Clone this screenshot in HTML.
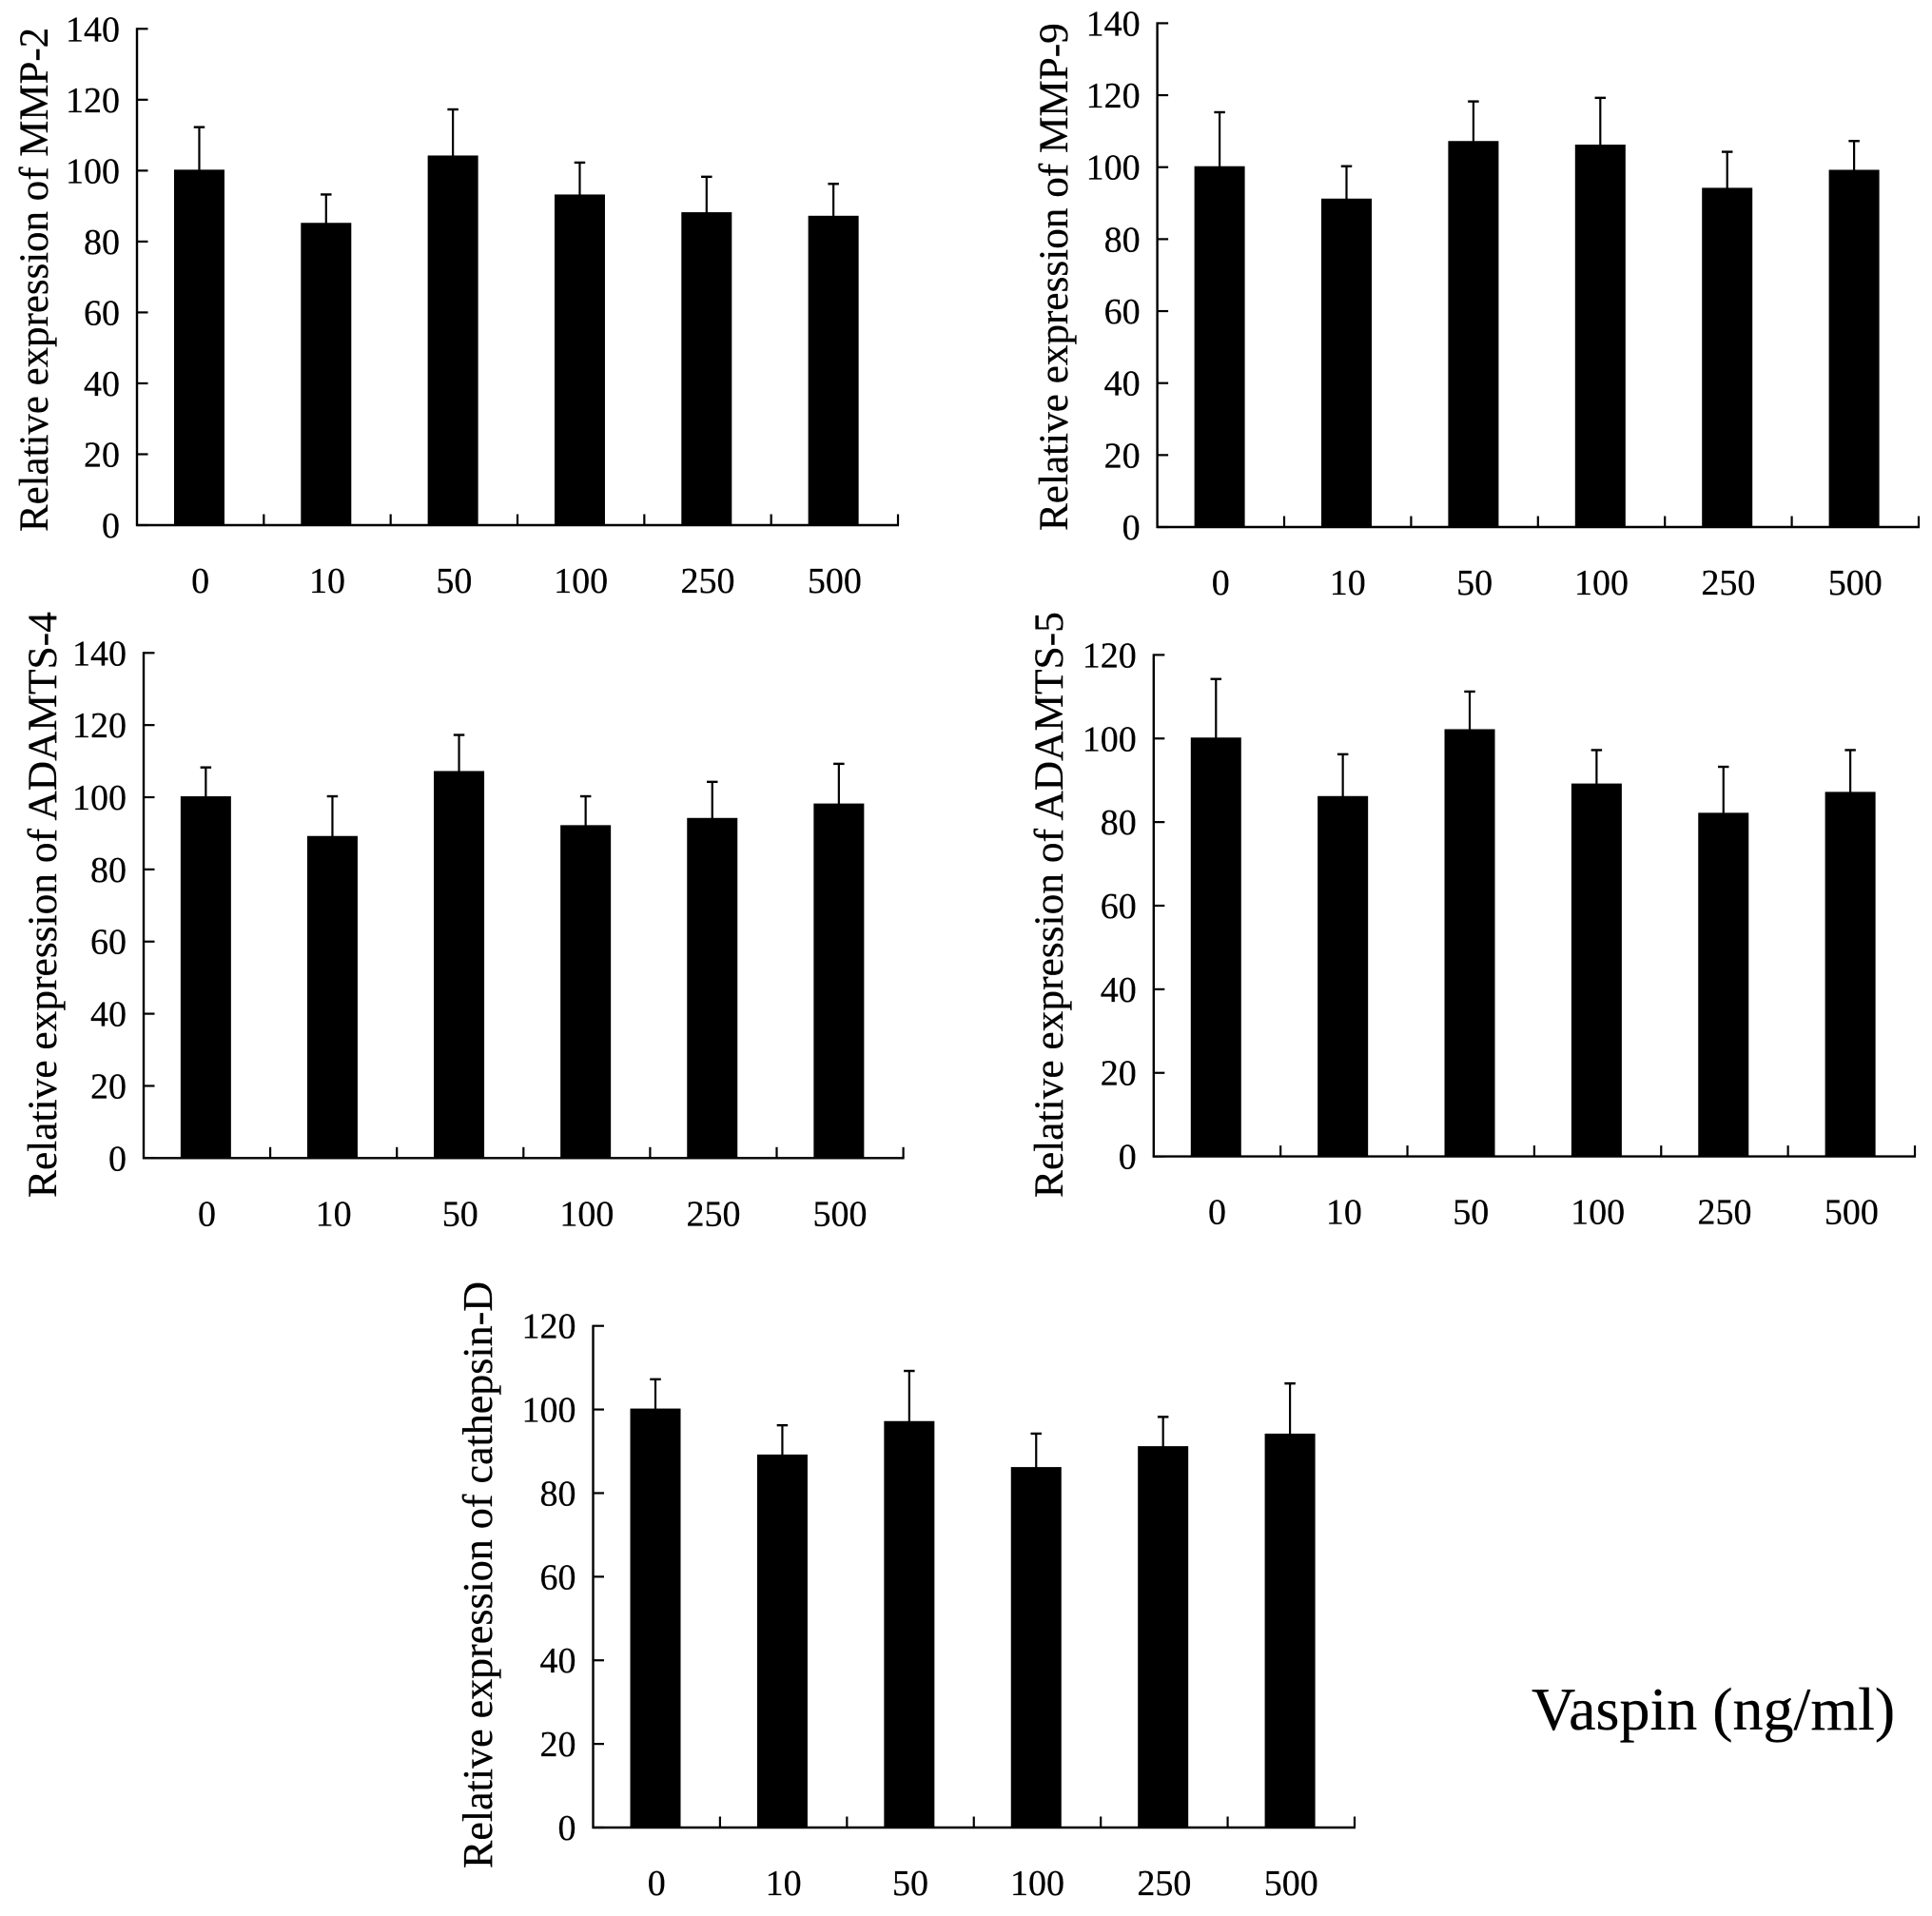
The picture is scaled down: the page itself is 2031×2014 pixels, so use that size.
<!DOCTYPE html>
<html lang="en">
<head>
<meta charset="utf-8">
<title>Relative expression vs Vaspin dose</title>
<style>
html,body{margin:0;padding:0;background:#fff;}
svg{display:block;}
text{font-family:"Liberation Serif",serif;fill:#000;stroke:#000;stroke-width:0.25px;}
.title{font-size:43.4px;}
.tick{font-size:38px;}
</style>
</head>
<body>
<svg id="figure" xmlns="http://www.w3.org/2000/svg" width="2031" height="2014" viewBox="0 0 2031 2014">
  <rect x="0" y="0" width="2031" height="2014" fill="#fff"/>
  <g id="panel-mmp2">
    <text class="title" style="font-size:42.9px" transform="translate(50,559) rotate(-90)">Relative expression of MMP-2</text>
  </g>
  <g id="panel-mmp9">
    <text class="title" style="font-size:43.2px" transform="translate(1122,558) rotate(-90)">Relative expression of MMP-9</text>
  </g>
  <g id="panel-adamts4">
    <text class="title" transform="translate(59,1259) rotate(-90)">Relative expression of ADAMTS-4</text>
  </g>
  <g id="panel-adamts5">
    <text class="title" transform="translate(1117,1259) rotate(-90)">Relative expression of ADAMTS-5</text>
  </g>
  <g id="panel-cathepsin">
    <text class="title" style="font-size:44px" transform="translate(517,1964) rotate(-90)">Relative expression of cathepsin-D</text>
  </g>
  <text x="1610" y="1818" font-size="64">Vaspin (ng/ml)</text>
</svg>
<script>
var doseLabels = ['0', '10', '50', '100', '250', '500'];
var ticksTo140 = [0, 20, 40, 60, 80, 100, 120, 140];
var ticksTo120 = [0, 20, 40, 60, 80, 100, 120];

var mmp2Values = [100, 85, 104, 93, 88, 87];
var mmp2Upper = [112, 93, 117, 102, 98, 96];

var mmp9Values = [100, 91, 107, 106, 94, 99];
var mmp9Upper = [115, 100, 118, 119, 104, 107];

var adamts4Values = [100, 89, 107, 92, 94, 98];
var adamts4Upper = [108, 100, 117, 100, 104, 109];

var adamts5Values = [100, 86, 102, 89, 82, 87];
var adamts5Upper = [114, 96, 111, 97, 93, 97];

var cathepsinValues = [100, 89, 97, 86, 91, 94];
var cathepsinUpper = [107, 96, 109, 94, 98, 106];

var SVG_NS = 'http://www.w3.org/2000/svg';

function make(parent, tag, attrs) {
  var el = document.createElementNS(SVG_NS, tag);
  Object.keys(attrs).forEach(function (k) { el.setAttribute(k, attrs[k]); });
  parent.appendChild(el);
  return el;
}

function drawPanel(panelId, left, right, top, bottom, ticks, values, upper) {
  var g = document.getElementById(panelId);
  var maxTick = ticks[ticks.length - 1];
  var step = (right - left) / doseLabels.length;
  function yScale(v) { return bottom - (v / maxTick) * (bottom - top); }
  function xCenter(i) { return left + step * (i + 0.5); }

  var barWidth = 53;
  var barShift = -1.2;
  var capWidth = 11.5;
  var tickLength = 11.5;

  values.forEach(function (v, i) {
    var bar = make(g, 'rect', {
      x: xCenter(i) + barShift - barWidth / 2,
      y: yScale(v) - 1,
      width: barWidth,
      height: bottom - yScale(v) + 1,
      fill: '#000'
    });
    
    

    var stem = make(g, 'line', {
      x1: xCenter(i) + barShift, x2: xCenter(i) + barShift,
      y1: yScale(v), y2: yScale(upper[i]) - 1,
      stroke: '#000', 'stroke-width': 2.2
    });
    
    

    var cap = make(g, 'line', {
      x1: xCenter(i) + barShift - capWidth / 2, x2: xCenter(i) + barShift + capWidth / 2,
      y1: yScale(upper[i]) - 1, y2: yScale(upper[i]) - 1,
      stroke: '#000', 'stroke-width': 2.4
    });
    
    

    var label = make(g, 'text', {
      x: xCenter(i), y: bottom + 71, 'text-anchor': 'middle', 'class': 'tick'
    });
    label.textContent = doseLabels[i];
    
    
  });

  var yAxis = make(g, 'line', {
    x1: left, x2: left, y1: top - 1, y2: bottom + 1,
    stroke: '#000', 'stroke-width': 2.4
  });
  
  

  var xAxis = make(g, 'line', {
    x1: left - 1, x2: right + 1, y1: bottom, y2: bottom,
    stroke: '#000', 'stroke-width': 2.4
  });
  
  

  ticks.forEach(function (t) {
    var yTick = make(g, 'line', {
      x1: left, x2: left + tickLength, y1: yScale(t), y2: yScale(t),
      stroke: '#000', 'stroke-width': 2.2
    });
    
    

    var yLabel = make(g, 'text', {
      x: left - 18, y: yScale(t) + 13, 'text-anchor': 'end', 'class': 'tick'
    });
    yLabel.textContent = String(t);
    
    
  });

  for (var i = 1; i <= doseLabels.length; i++) {
    var xTick = make(g, 'line', {
      x1: left + step * i, x2: left + step * i, y1: bottom - tickLength, y2: bottom,
      stroke: '#000', 'stroke-width': 2.2
    });
    
    
  }
}

drawPanel('panel-mmp2', 144, 944, 30.3, 552, ticksTo140, mmp2Values, mmp2Upper);
drawPanel('panel-mmp9', 1216.6, 2017, 24.4, 554, ticksTo140, mmp9Values, mmp9Upper);
drawPanel('panel-adamts4', 151, 949.6, 686.3, 1217.3, ticksTo140, adamts4Values, adamts4Upper);
drawPanel('panel-adamts5', 1212.8, 2013, 688.4, 1215.6, ticksTo120, adamts5Values, adamts5Upper);
drawPanel('panel-cathepsin', 623.5, 1424, 1393.7, 1921, ticksTo120, cathepsinValues, cathepsinUpper);
</script>
</body>
</html>
